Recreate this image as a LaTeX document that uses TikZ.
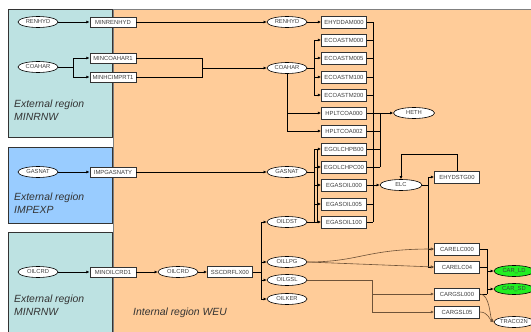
\documentclass[tikz,border=0pt]{standalone}
\usepackage{fontspec}
\setmainfont{Liberation Sans}
\usetikzlibrary{arrows.meta,shapes.geometric,calc}
\definecolor{tealbg}{HTML}{BDE2E2}
\definecolor{bluebg}{HTML}{99CCFF}
\definecolor{orngbg}{HTML}{FFCC99}
\definecolor{grn}{HTML}{22EE22}
\definecolor{brn}{HTML}{6E5238}
\begin{document}
\begin{tikzpicture}[x=1pt,y=-1pt,
  proc/.style={draw=black!80, fill=white, line width=0.9pt, minimum width=45pt, minimum height=12pt, inner sep=0pt, font=\fontsize{5.9}{6}\selectfont, text=black!75},
  lproc/.style={proc, minimum width=46pt, minimum height=10pt},
  comm/.style={ellipse, draw=black, fill=white, line width=0.6pt, minimum width=40pt, minimum height=11pt, inner sep=0pt, font=\fontsize{5.8}{6}\selectfont, text=black!75},
  gcomm/.style={comm, fill=grn},
  link/.style={draw=black, line width=0.6pt},
  arr/.style={link, -{Latex[length=3.2pt,width=3pt]}},
  region/.style={font=\itshape\fontsize{10.4}{12.8}\selectfont, text=black!80, align=left, anchor=north west, inner sep=0pt},
]
\useasboundingbox (0,0) rectangle (531,332);
% backgrounds
\fill[orngbg] (113,9) rectangle (540,340);
\draw[black!50, line width=0.8pt] (113,340) -- (113,9) -- (540,9);
\draw[fill=tealbg, draw=black!80, line width=0.8pt] (8,9) rectangle (112,137);
\draw[fill=bluebg, draw=black!80, line width=0.8pt] (8,147) rectangle (112,223);
\draw[fill=tealbg, draw=black!80, line width=0.8pt] (8,232) rectangle (112,340);

\node[region] (r1) at (14,100) {External region\\MINRNW};
\node[region] (r2) at (14,193) {External region\\IMPEXP};
\node[region] (r3) at (14,295) {External region\\MINRNW};
\node[region] (r4) at (133,308) {Internal region WEU};

% left nodes
\node[comm] (eRENHYD) at (38,22) {RENHYD};
\node[lproc] (MINRENHYD) at (113,22) {MINRENHYD};
\node[comm] (eCOAHAR) at (38,67) {COAHAR};
\node[lproc] (MINCOAHAR1) at (113,58) {MINCOAHAR1};
\node[lproc] (MINHCIMPRT1) at (113,77) {MINHCIMPRT1};
\node[comm] (eGASNAT) at (38,172) {GASNAT};
\node[lproc] (IMPGASNATY) at (113,172) {IMPGASNATY};
\node[comm] (eOILCRD) at (38,272) {OILCRD};
\node[lproc] (MINOILCRD1) at (113,272) {MINOILCRD1};

% internal commodities
\node[comm] (iRENHYD) at (287,22) {RENHYD};
\node[comm] (iCOAHAR) at (287,68) {COAHAR};
\node[comm] (iGASNAT) at (287,172) {GASNAT};
\node[comm] (iOILDST) at (287,222) {OILDST};
\node[comm] (iOILCRD) at (178,272) {OILCRD};
\node[proc, minimum height=11pt] (SSCDRFLX00) at (230,272) {SSCDRFLX00};
\node[comm] (OILLPG) at (287,262) {OILLPG};
\node[comm] (OILGSL) at (287,280) {OILGSL};
\node[comm] (OILKER) at (287,299) {OILKER};

% column of processes
\node[proc] (EHYDDAM000) at (344,22) {EHYDDAM000};
\node[proc] (ECOASTM000) at (344,40) {ECOASTM000};
\node[proc] (ECOASTM005) at (344,58) {ECOASTM005};
\node[proc] (ECOASTM100) at (344,77) {ECOASTM100};
\node[proc] (ECOASTM200) at (344,95) {ECOASTM200};
\node[proc] (HPLTCOA000) at (344,113) {HPLTCOA000};
\node[proc] (HPLTCOA002) at (344,131) {HPLTCOA002};
\node[proc] (EGOLCHPB00) at (344,149) {EGOLCHPB00};
\node[proc] (EGOLCHPC00) at (344,167) {EGOLCHPC00};
\node[proc] (EGASOIL000) at (344,185) {EGASOIL000};
\node[proc] (EGASOIL005) at (344,204) {EGASOIL005};
\node[proc] (EGASOIL100) at (344,222) {EGASOIL100};

\node[comm, minimum width=41pt] (HETH) at (414,113) {HETH};
\node[comm, minimum width=42pt] (ELC) at (401,185) {ELC};
\node[proc] (EHYDSTG00) at (457,177) {EHYDSTG00};
\node[proc] (CARELC000) at (457,249) {CARELC000};
\node[proc] (CARELC04) at (457,267) {CARELC04};
\node[proc] (CARGSL000) at (457,294) {CARGSL000};
\node[proc] (CARGSL05) at (457,312) {CARGSL05};
\node[gcomm] (CARLD) at (514,271) {CAR\_LD};
\node[gcomm] (CARSD) at (514,289) {CAR\_SD};
\node[comm] (TRACO2N) at (514,322) {TRACO2N};

% bus coordinates
\coordinate (b1) at (73,0);
\coordinate (b2) at (202,0);
\coordinate (b3) at (314,0);
\coordinate (b3b) at (317,0);
\coordinate (b4) at (261,0);
\coordinate (elcbus) at (373,0);
\coordinate (hbus) at (380,0);
\coordinate (obus) at (428,0);
\coordinate (cbus) at (487,0);
\coordinate (gbus) at (372,0);

% RENHYD chain
\draw[arr] (eRENHYD) -- (MINRENHYD);
\draw[arr] (MINRENHYD) -- (iRENHYD);
\draw[arr] (iRENHYD) -- (EHYDDAM000);

% COAHAR chain
\draw[link] (eCOAHAR.east) -- (eCOAHAR.east -| b1);
\draw[arr] (eCOAHAR.east -| b1) |- (MINCOAHAR1.west);
\draw[arr] (eCOAHAR.east -| b1) |- (MINHCIMPRT1.west);
\draw[link] (MINCOAHAR1.east) -| (b2 |- MINHCIMPRT1.east) -- (MINHCIMPRT1.east);
\draw[arr] (b2 |- iCOAHAR.west) -- (iCOAHAR.west);
\draw[link] (iCOAHAR.east) -- (iCOAHAR.east -| b3);
\foreach \n in {ECOASTM000,ECOASTM005,ECOASTM100,ECOASTM200}
  \draw[arr] (iCOAHAR.east -| b3) |- (\n.west);
\draw[arr] (iCOAHAR.south) |- (HPLTCOA000.west);
\draw[arr] (iCOAHAR.south) |- (HPLTCOA002.west);

% GASNAT chain
\draw[arr] (eGASNAT) -- (IMPGASNATY);
\draw[arr] (IMPGASNATY) -- (iGASNAT);
\draw[link] (iGASNAT.east) -- (iGASNAT.east -| b3);
\foreach \n in {EGOLCHPB00,EGOLCHPC00,EGASOIL000,EGASOIL005,EGASOIL100}
  \draw[arr] (iGASNAT.east -| b3) |- (\n.west);
\draw[link] (iOILDST.east) -- (iOILDST.east -| b3b) -- (b3b |- EGOLCHPB00.west);

% OILCRD chain
\draw[arr] (eOILCRD) -- (MINOILCRD1);
\draw[arr] (MINOILCRD1) -- (iOILCRD);
\draw[arr] (iOILCRD) -- (SSCDRFLX00);
\draw[link] (SSCDRFLX00.east) -- (SSCDRFLX00.east -| b4);
\foreach \n in {iOILDST,OILLPG,OILGSL,OILKER}
  \draw[arr] (SSCDRFLX00.east -| b4) |- (\n.west);

% electricity bus
\foreach \n in {EHYDDAM000,ECOASTM000,ECOASTM005,ECOASTM100,ECOASTM200,HPLTCOA002,EGOLCHPB00,EGOLCHPC00,EGASOIL000,EGASOIL005,EGASOIL100}
  \draw[link] (\n.east) -- (\n.east -| elcbus);
\draw[link] (EHYDDAM000.east -| elcbus) -- (EGASOIL100.east -| elcbus);
\draw[arr] (elcbus |- ELC.west) -- (ELC.west);

% heat bus
\draw[arr] (HPLTCOA000.east) -- (HETH.west);
\foreach \n in {HPLTCOA002,EGOLCHPB00,EGOLCHPC00}
  \draw[link] (\n.east) -- (\n.east -| hbus);
\draw[link] (HPLTCOA000.east -| hbus) -- (EGOLCHPC00.east -| hbus);

% ELC outputs
\draw[link] (ELC.east) -- (ELC.east -| obus);
\draw[link] (obus |- EHYDSTG00.west) -- (obus |- CARELC04.west);
\foreach \n in {EHYDSTG00,CARELC000,CARELC04}
  \draw[arr] (obus |- \n.west) -- (\n.west);
\draw[arr] (EHYDSTG00.north) -- ++(0,-16) -| (ELC.north);

% oil products to cars
\draw[arr, draw=brn] (OILLPG.east) .. controls (360,262) and (365,249) .. (CARELC000.west);
\draw[arr, draw=brn] (OILLPG.east) -- (CARELC04.west);
\draw[link, draw=brn] (OILGSL.east) -- (OILGSL.east -| gbus);
\draw[arr, draw=brn] (OILGSL.east -| gbus) |- (CARGSL05.west);
\draw[arr, draw=brn] (gbus |- CARGSL000.west) -- (CARGSL000.west);

% car outputs
\foreach \n in {CARELC000,CARELC04,CARGSL000}
  \draw[link] (\n.east) -- (\n.east -| cbus);
\draw[link] (CARELC000.east -| cbus) -- (CARGSL000.east -| cbus);
\draw[arr] (cbus |- CARLD.west) -- (CARLD.west);
\draw[arr] (cbus |- CARSD.west) -- (CARSD.west);
\draw[arr, draw=brn] (CARGSL000.east) .. controls (490,294) and (490,318) .. (TRACO2N.west);
\draw[arr, draw=brn] (CARGSL05.east) .. controls (488,312) and (490,320) .. (TRACO2N.west);
\end{tikzpicture}
\end{document}
